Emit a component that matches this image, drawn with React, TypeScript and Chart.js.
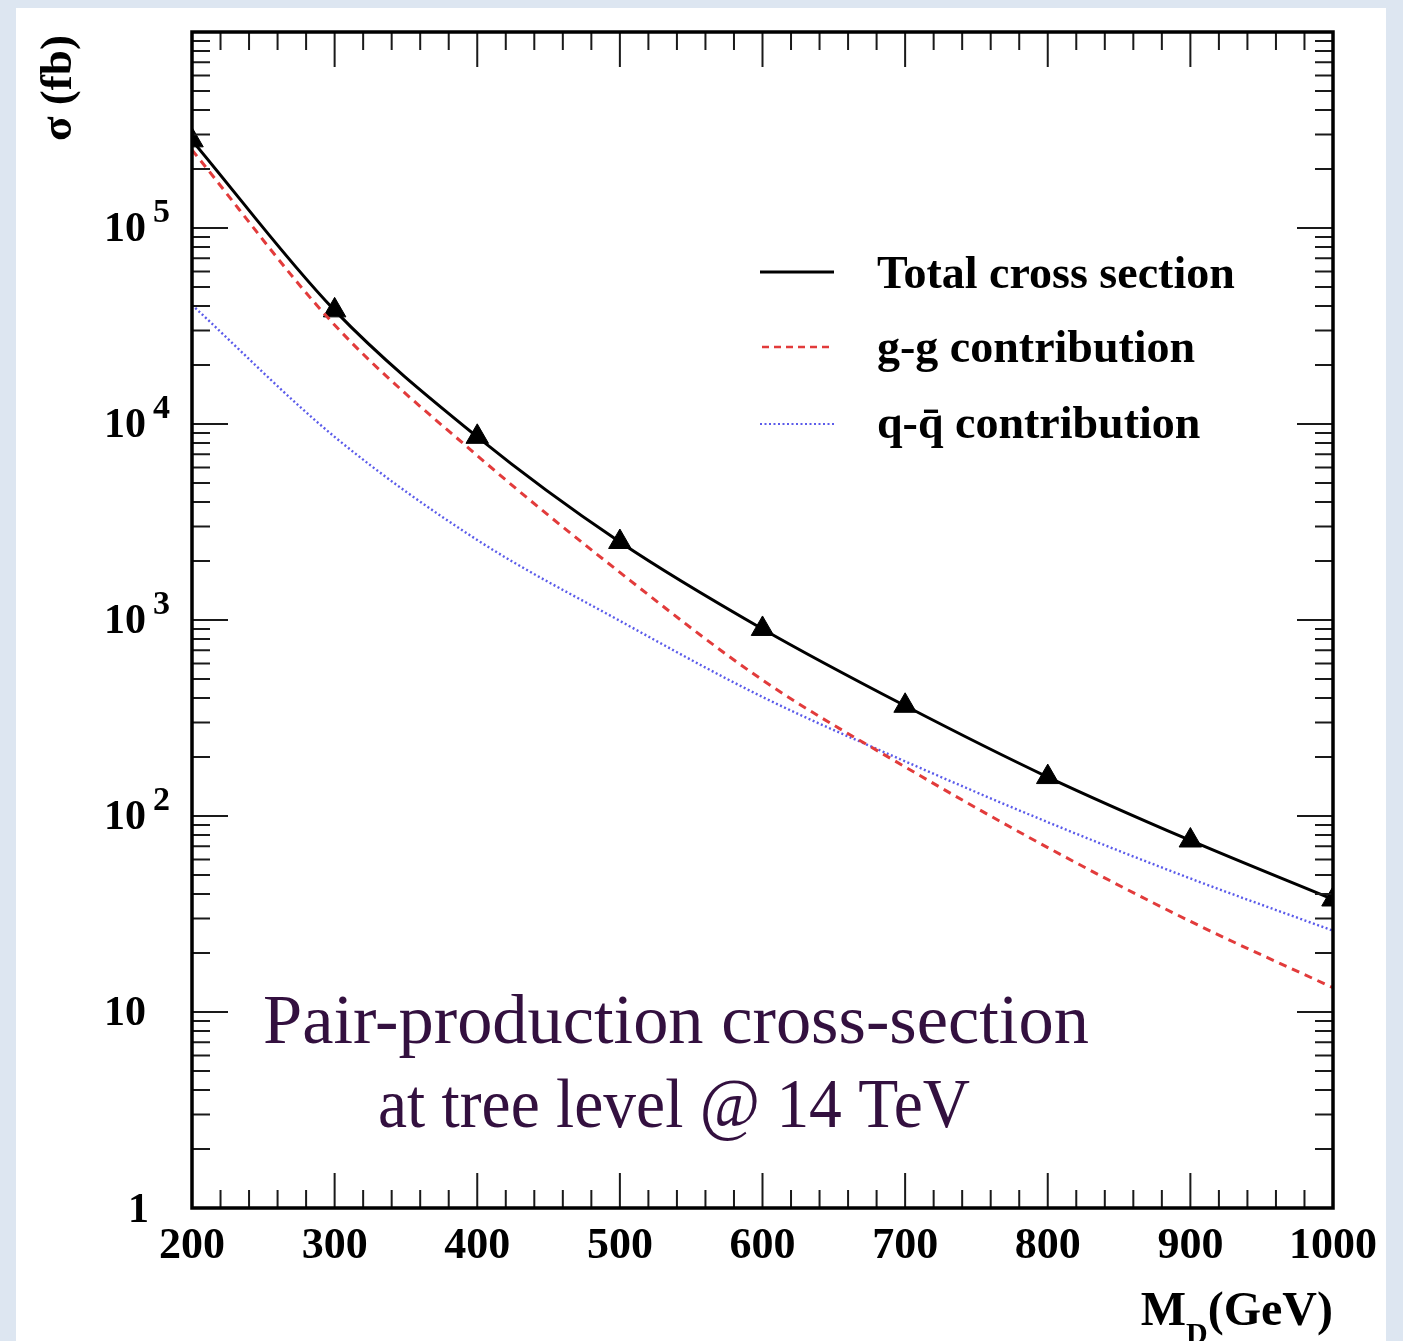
import React, { useEffect, useRef } from "react";
import { Chart, registerables } from "chart.js";

Chart.register(...registerables);

// ---- data ----
const MASS = [200, 300, 400, 500, 600, 700, 800, 900, 1000];
const TOTAL = [2.8e5, 3.8e4, 8.6e3, 2.5e3, 900, 365, 158, 75, 37.5];
const GG = [2.5e5, 3.2e4, 6.9e3, 1.75e3, 494, 178, 69, 29, 13.3];
const QQ = [4.05e4, 8.6e3, 2.56e3, 990, 405, 190, 93, 48, 26];

const X_TICKS = [200, 300, 400, 500, 600, 700, 800, 900, 1000];
const Y_DECADES = [0, 1, 2, 3, 4, 5];

const LEGEND_LABELS = ["Total cross section", "g-g contribution", "q-q\u0304 contribution"];
const NOTE_LINES = ["Pair-production cross-section", "at tree level @ 14 TeV"];

const W = 1403;
const H = 1341;
const RED = "#e23b3b";
const BLUE = "#5b5bea";
const SERIF = '"Liberation Serif", "Times New Roman", serif';

function fitFont(ctx: CanvasRenderingContext2D, text: string, weight: string, family: string, targetWidth: number) {
  ctx.font = `${weight} 100px ${family}`;
  const w = ctx.measureText(text).width;
  return (100 * targetWidth) / w;
}

const framePlugin = {
  id: "rootFrame",
  afterDatasetsDraw(chart: any) {
    const ctx: CanvasRenderingContext2D = chart.ctx;
    const { left, right, top, bottom } = chart.chartArea;
    const xs = chart.scales.x;
    const ys = chart.scales.y;
    ctx.save();

    // ticks
    ctx.strokeStyle = "#1a1a1a";
    ctx.lineWidth = 2;
    ctx.beginPath();
    for (let v = 200; v <= 1000; v += 20) {
      const px = xs.getPixelForValue(v);
      const len = v % 100 === 0 ? 35 : 18;
      ctx.moveTo(px, bottom);
      ctx.lineTo(px, bottom - len);
      ctx.moveTo(px, top);
      ctx.lineTo(px, top + len);
    }
    for (let d = 0; d <= 5; d++) {
      for (let m = 1; m <= 9; m++) {
        const v = m * Math.pow(10, d);
        const py = ys.getPixelForValue(v);
        const len = m === 1 ? 36 : 18;
        ctx.moveTo(left, py);
        ctx.lineTo(left + len, py);
        ctx.moveTo(right, py);
        ctx.lineTo(right - len, py);
      }
    }
    ctx.stroke();

    // frame
    ctx.strokeStyle = "#000";
    ctx.lineWidth = 3.5;
    ctx.strokeRect(left, top, right - left, bottom - top);

    // x tick labels
    ctx.fillStyle = "#000";
    ctx.font = `bold 44px ${SERIF}`;
    ctx.textAlign = "center";
    ctx.textBaseline = "alphabetic";
    X_TICKS.forEach((v) => {
      ctx.fillText(String(v), xs.getPixelForValue(v), 1258);
    });

    // y tick labels
    Y_DECADES.forEach((d) => {
      const py = ys.getPixelForValue(Math.pow(10, d));
      ctx.textAlign = "right";
      ctx.font = `bold 42px ${SERIF}`;
      if (d === 0) {
        ctx.fillText("1", 149, py + 14);
      } else {
        ctx.fillText("10", 146, py + 13);
        if (d >= 2) {
          ctx.textAlign = "left";
          ctx.font = `bold 34px ${SERIF}`;
          ctx.fillText(String(d), 153, py - 6);
        }
      }
    });

    // axis titles
    ctx.save();
    ctx.translate(71, 88);
    ctx.rotate(-Math.PI / 2);
    const yt = "\u03c3 (fb)";
    const fs = fitFont(ctx, yt, "bold", SERIF, 106);
    ctx.font = `bold ${fs}px ${SERIF}`;
    ctx.textAlign = "center";
    ctx.fillText(yt, 0, 0);
    ctx.restore();

    ctx.font = `bold 48px ${SERIF}`;
    const wM = ctx.measureText("M").width;
    const wG = ctx.measureText("(GeV)").width;
    ctx.font = `bold 30px ${SERIF}`;
    const wD = ctx.measureText("D").width;
    const x0 = right - (wM + wD + wG);
    ctx.textAlign = "left";
    ctx.font = `bold 48px ${SERIF}`;
    ctx.fillText("M", x0, 1325);
    ctx.font = `bold 30px ${SERIF}`;
    ctx.fillText("D", x0 + wM, 1343);
    ctx.font = `bold 48px ${SERIF}`;
    ctx.fillText("(GeV)", x0 + wM + wD, 1325);

    // legend
    const legendY = [272, 347, 424];
    const textY = [288, 362, 438];
    ctx.strokeStyle = "#000";
    ctx.lineWidth = 3;
    ctx.setLineDash([]);
    ctx.beginPath();
    ctx.moveTo(760, legendY[0]);
    ctx.lineTo(834, legendY[0]);
    ctx.stroke();
    ctx.strokeStyle = RED;
    ctx.lineWidth = 2.5;
    ctx.setLineDash([7, 5]);
    ctx.beginPath();
    ctx.moveTo(762, legendY[1]);
    ctx.lineTo(834, legendY[1]);
    ctx.stroke();
    ctx.strokeStyle = BLUE;
    ctx.lineWidth = 2.2;
    ctx.setLineDash([2, 2.5]);
    ctx.beginPath();
    ctx.moveTo(760, legendY[2]);
    ctx.lineTo(834, legendY[2]);
    ctx.stroke();
    ctx.setLineDash([]);

    ctx.fillStyle = "#000";
    ctx.textAlign = "left";
    ctx.font = `bold 46px ${SERIF}`;
    LEGEND_LABELS.forEach((t, i) => ctx.fillText(t, 877, textY[i]));

    // annotation
    ctx.fillStyle = "#33103f";
    ctx.textAlign = "left";
    const f1 = fitFont(ctx, NOTE_LINES[0], "normal", SERIF, 826);
    ctx.font = `normal ${f1}px ${SERIF}`;
    ctx.fillText(NOTE_LINES[0], 263, 1043);
    ctx.fillText(NOTE_LINES[1], 378, 1127, 592);

    ctx.restore();
  },
};

export default function App() {
  const ref = useRef<HTMLCanvasElement | null>(null);

  useEffect(() => {
    if (!ref.current) return;
    const chart = new Chart(ref.current, {
      type: "line",
      data: {
        datasets: [
          {
            label: LEGEND_LABELS[1],
            data: MASS.map((m, i) => ({ x: m, y: GG[i] })),
            borderColor: RED,
            borderWidth: 3,
            borderDash: [8, 6],
            pointRadius: 0,
            cubicInterpolationMode: "monotone",
            clip: 0,
          },
          {
            label: LEGEND_LABELS[2],
            data: MASS.map((m, i) => ({ x: m, y: QQ[i] })),
            borderColor: BLUE,
            borderWidth: 2.4,
            borderDash: [2, 2.5],
            pointRadius: 0,
            cubicInterpolationMode: "monotone",
            clip: 0,
          },
          {
            label: LEGEND_LABELS[0],
            data: MASS.map((m, i) => ({ x: m, y: TOTAL[i] })),
            borderColor: "#000",
            borderWidth: 3,
            pointStyle: "triangle",
            pointRadius: 13,
            pointBackgroundColor: "#000",
            pointBorderColor: "#000",
            pointBorderWidth: 1,
            cubicInterpolationMode: "monotone",
            clip: 0,
          },
        ],
      },
      options: {
        animation: false,
        responsive: false,
        maintainAspectRatio: false,
        layout: { padding: { left: 192, right: W - 1333, top: 32, bottom: H - 1208 } },
        scales: {
          x: { type: "linear", min: 200, max: 1000, display: false },
          y: { type: "logarithmic", min: 1, max: 1e6, display: false },
        },
        plugins: { legend: { display: false }, tooltip: { enabled: false } },
      } as any,
      plugins: [framePlugin],
    });
    return () => chart.destroy();
  }, []);

  return (
    <div style={{ position: "absolute", left: 0, top: 0, width: W, height: H, background: "#dde6f1", overflow: "hidden" }}>
      <div style={{ position: "absolute", left: 16, top: 8, width: 1370, height: H - 8, background: "#fff" }} />
      <canvas ref={ref} width={W} height={H} style={{ position: "absolute", left: 0, top: 0, width: W, height: H }} />
    </div>
  );
}
